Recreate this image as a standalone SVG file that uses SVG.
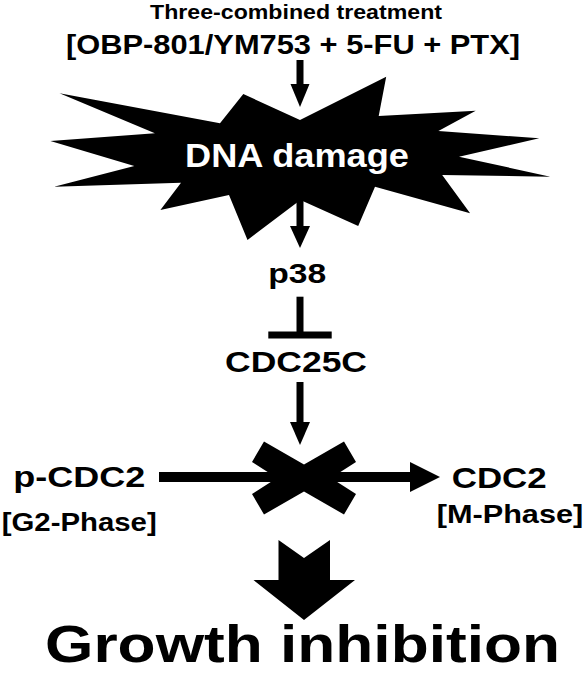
<svg xmlns="http://www.w3.org/2000/svg" width="585" height="673" viewBox="0 0 585 673">
<style>
text{font-family:"Liberation Sans",Arial,Helvetica,sans-serif;font-weight:bold;fill:#000;text-anchor:start}
.white{fill:#fff}
.shape{fill:#000;stroke:none}
.line{stroke:#000;stroke-width:7;fill:none}
</style>
<rect x="0" y="0" width="585" height="673" fill="#fff"/>
<g id="treatment">
<text x="150" y="18.5" font-size="20" textLength="292" lengthAdjust="spacingAndGlyphs">Three-combined treatment</text>
<text x="66" y="53.5" font-size="28" textLength="454" lengthAdjust="spacingAndGlyphs">[OBP-801/YM753 + 5-FU + PTX]</text>
</g>
<g id="dna-damage">
<polygon class="shape" points="300,120 386.2,76.7 378.7,116 475.7,110.7 438.4,131 539.2,138.3 459,156.7 550.4,176.7 442.2,175 470.1,213.3 375,186.7 358.2,226 300.4,200 247.5,240 229,195 160.4,210 181,182.7 54.1,186.7 134.3,166 50.4,141 154.9,133.3 59.5,93.3 220,123.3 243.3,94"/>
<text class="white" x="185" y="167.3" font-size="34" textLength="224" lengthAdjust="spacingAndGlyphs">DNA damage</text>
</g>
<g id="p38">
<text x="268.3" y="283.3" font-size="28" textLength="58" lengthAdjust="spacingAndGlyphs">p38</text>
</g>
<g id="cdc25c">
<text x="225" y="372.3" font-size="29" textLength="142" lengthAdjust="spacingAndGlyphs">CDC25C</text>
</g>
<g id="p-cdc2">
<text x="13.3" y="486.7" font-size="29" textLength="132" lengthAdjust="spacingAndGlyphs">p-CDC2</text>
<text x="1.7" y="530.7" font-size="26" textLength="155" lengthAdjust="spacingAndGlyphs">[G2-Phase]</text>
</g>
<g id="cdc2">
<text x="451.7" y="488.3" font-size="29.5" textLength="95" lengthAdjust="spacingAndGlyphs">CDC2</text>
<text x="436.7" y="523.3" font-size="26" textLength="146.6" lengthAdjust="spacingAndGlyphs">[M-Phase]</text>
</g>
<g id="growth-inhibition">
<text x="45" y="661.5" font-size="51.5" textLength="515" lengthAdjust="spacingAndGlyphs">Growth inhibition</text>
</g>
<g id="connectors">
<line class="line" x1="300" y1="60" x2="300" y2="86"/>
<polygon class="shape" points="290.5,84 309.5,84 300,107"/>
<line class="line" x1="300" y1="200" x2="300" y2="228"/>
<polygon class="shape" points="290,226 310,226 300,248"/>
<line class="line" x1="300" y1="296.7" x2="300" y2="335"/>
<rect class="shape" x="268.3" y="331.5" width="63.4" height="7"/>
<line class="line" x1="300" y1="382" x2="300" y2="424"/>
<polygon class="shape" points="290,422 310,422 300,445"/>
<rect class="shape" x="159" y="472" width="253" height="10"/>
<polygon class="shape" points="410,462 440,477 410,492"/>
<polygon id="block-x" class="shape" points="264,441.5 304,464.5 344,441.5 356,462 331,478 356,494 344,514.5 304,491.5 264,514.5 252,494 277,478 252,462"/>
<polygon id="big-arrow" class="shape" points="278.5,540 304,558 330,540 330,580 355,580 304,620 253.5,580 278.5,580"/>
</g>
</svg>
